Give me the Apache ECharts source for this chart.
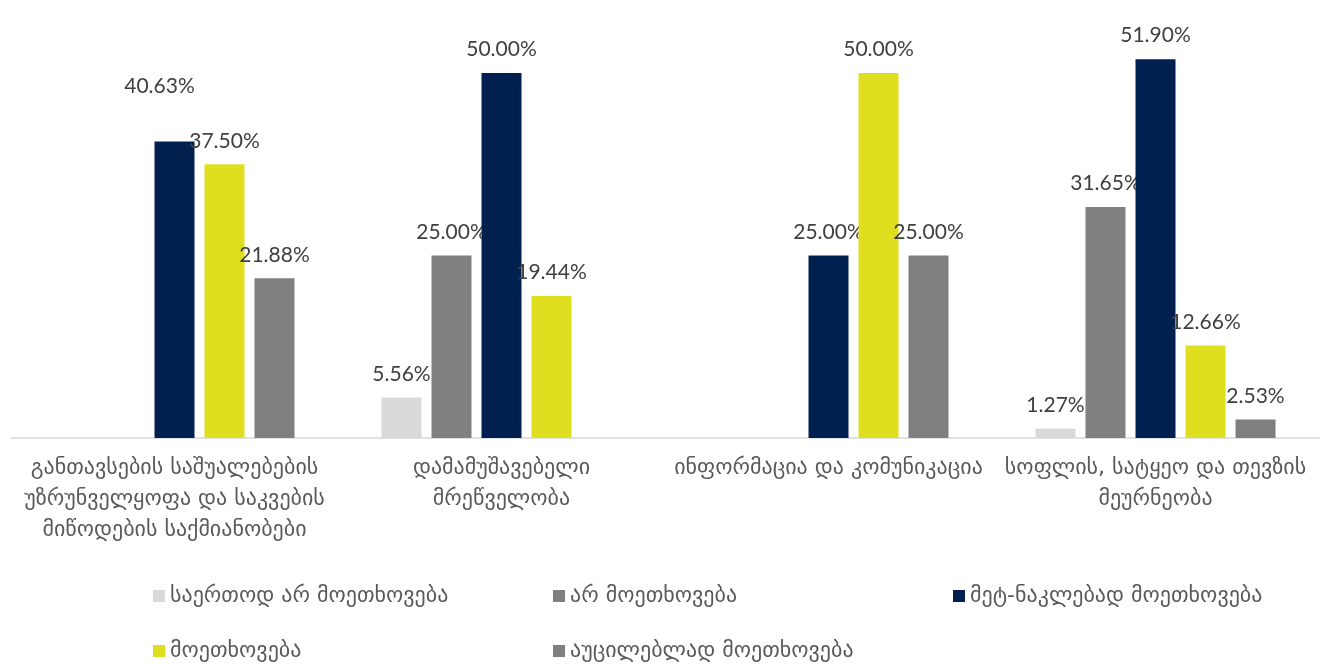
<!DOCTYPE html>
<html>
<head>
<meta charset="utf-8">
<style>
  html, body { margin: 0; padding: 0; background: #fff; }
  #chart { width: 1323px; height: 669px; }
</style>
<script src="https://cdn.jsdelivr.net/npm/echarts@6/dist/echarts.min.js"></script>
</head>
<body>
<div id="chart"></div>
<script>
// categories (line breaks as in the picture)
const categories = [
  'განთავსების საშუალებების\nუზრუნველყოფა და საკვების\nმიწოდების საქმიანობები',
  'დამამუშავებელი\nმრეწველობა',
  'ინფორმაცია და კომუნიკაცია',
  'სოფლის, სატყეო და თევზის\nმეურნეობა'
];
const seriesNames = [
  'საერთოდ არ მოეთხოვება',
  'არ მოეთხოვება',
  'მეტ-ნაკლებად მოეთხოვება',
  'მოეთხოვება',
  'აუცილებლად მოეთხოვება'
];
// null = no bar in that category
const notRequiredAtAll = [null, 5.56, null, 1.27];
const notRequired      = [null, 25.00, null, 31.65];
const moreOrLess       = [40.63, 50.00, 25.00, 51.90];
const required         = [37.50, 19.44, 50.00, 12.66];
const mustHave         = [21.88, null, 25.00, 2.53];

const colors = ['#d9d9d9', '#808080', '#002150', '#dfdf20', '#7f7f7f'];
const values = [notRequiredAtAll, notRequired, moreOrLess, required, mustHave];

const numFont = 'Lato, "DejaVu Sans", sans-serif';
const geoFont = '"DejaVu Sans", sans-serif';

let chart = echarts.init(document.getElementById('chart'));

let series = values.map(function (arr, i) {
  let data = arr.map(function (v, j) {
    // label of the first navy bar sits higher and to the left
    if (i === 2 && j === 0) {
      return { value: v, label: { offset: [-15, -32] } };
    }
    return v;
  });
  return {
    name: seriesNames[i],
    type: 'bar',
    z: 2 + i,
    data: data,
    barGap: '25%',
    barCategoryGap: '26.6%',
    itemStyle: { color: colors[i] },
    label: {
      show: true,
      position: 'top',
      distance: 13,
      fontFamily: numFont,
      fontSize: 21,
      color: '#404040',
      formatter: function (p) { return p.value == null ? '' : p.value.toFixed(2) + '%'; }
    }
  };
});

// legend placed as a grid of 3 columns, two rows
const legendPos = [[148, 580], [548, 580], [948, 580], [148, 635], [548, 635]];
let legends = seriesNames.map(function (n, i) {
  return {
    data: [n],
    left: legendPos[i][0],
    top: legendPos[i][1],
    icon: 'rect',
    itemWidth: 12,
    itemHeight: 12,
    itemGap: 4,
    selectedMode: false,
    textStyle: { fontFamily: geoFont, fontSize: 22, color: '#595959' }
  };
});

chart.setOption({
  animation: false,
  grid: { left: 11, right: 4, top: 0, bottom: 231, containLabel: false },
  legend: legends,
  xAxis: {
    type: 'category',
    data: categories,
    axisTick: { show: false },
    axisLine: { lineStyle: { color: '#d9d9d9', width: 1.5 } },
    axisLabel: {
      interval: 0,
      margin: 15,
      fontFamily: geoFont,
      fontSize: 22,
      lineHeight: 31,
      color: '#595959'
    }
  },
  yAxis: {
    type: 'value',
    min: 0,
    max: 60,
    show: false,
    splitLine: { show: false }
  },
  series: series
});

window.onresize = function () { chart.resize(); };
</script>
</body>
</html>
